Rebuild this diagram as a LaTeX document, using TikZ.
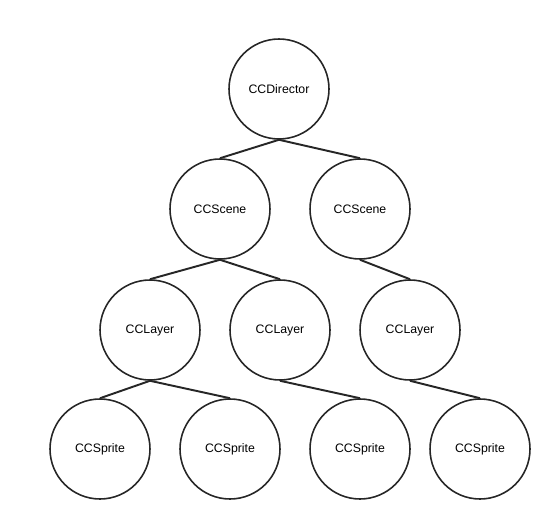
\documentclass[tikz,border=0pt]{standalone}
\usepackage{fontspec}
\setmainfont{Liberation Sans}

\begin{document}
\begin{tikzpicture}[x=0.02cm,y=-0.02cm,
    obj/.style={circle,draw=black!85,line width=0.9pt,minimum size=2cm,inner sep=0pt,
      font=\fontsize{7}{8}\selectfont},
    link/.style={draw=black!85,line width=1.1pt}]
  \useasboundingbox (0,0) rectangle (550,520);
  % director and scenes
  \node[obj] (dir) at (279,89) {CCDirector};
  \node[obj] (sceneA) at (220,209) {CCScene};
  \node[obj] (sceneB) at (360,209) {CCScene};
  % layers
  \node[obj] (layerA) at (150,330) {CCLayer};
  \node[obj] (layerB) at (280,330) {CCLayer};
  \node[obj] (layerC) at (410,330) {CCLayer};
  % sprites
  \node[obj] (spriteA) at (100,449) {CCSprite};
  \node[obj] (spriteB) at (230,449) {CCSprite};
  \node[obj] (spriteC) at (360,449) {CCSprite};
  \node[obj] (spriteD) at (480,449) {CCSprite};
  \draw[link] (dir.south) -- (sceneA.north);
  \draw[link] (dir.south) -- (sceneB.north);
  \draw[link] (sceneA.south) -- (layerA.north);
  \draw[link] (sceneA.south) -- (layerB.north);
  \draw[link] (sceneB.south) -- (layerC.north);
  \draw[link] (layerA.south) -- (spriteA.north);
  \draw[link] (layerA.south) -- (spriteB.north);
  \draw[link] (layerB.south) -- (spriteC.north);
  \draw[link] (layerC.south) -- (spriteD.north);
\end{tikzpicture}
\end{document}
